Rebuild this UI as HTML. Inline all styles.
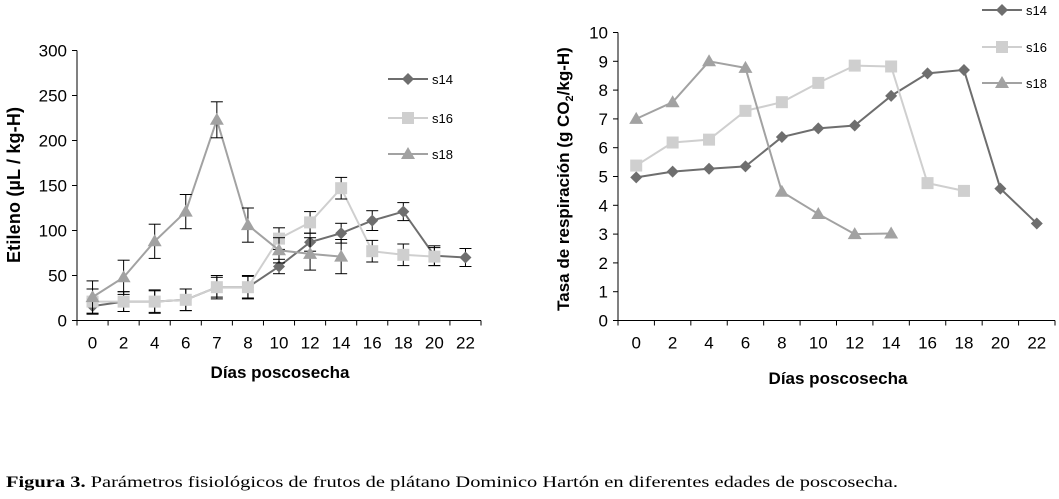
<!DOCTYPE html>
<html><head><meta charset="utf-8"><style>
body{margin:0;background:#fff;width:1059px;height:494px;overflow:hidden}
svg{font-family:"Liberation Sans",sans-serif}
</style></head><body>
<svg id="c" width="1059" height="494"></svg>
<script>
const catsL=["0","2","4","6","7","8","10","12","14","16","18","20","22"];
const s14L=[16,21,21,23,37,37,60,87,97,111,121,72,70];
const s14Lerr=[8,11,12,12,11,12,8,10,11,11,10,11,10];
const s16L=[21,21,21,23,37,37,91,109,147,77,73,71];
const s16Lerr=[14,11,13,12,13,13,12,12,12,12,12,10];
const s18L=[26,48,88,121,223,106,78,74,71];
const s18Lerr=[18,19,19,19,20,19,14,18,19];
const yTicksL=[0,50,100,150,200,250,300];
const catsR=["0","2","4","6","8","10","12","14","16","18","20","22"];
const s14R=[4.97,5.17,5.27,5.35,6.37,6.67,6.77,7.8,8.58,8.7,4.58,3.37];
const s16R=[5.38,6.18,6.28,7.28,7.58,8.25,8.85,8.82,4.77,4.5];
const s18R=[7.0,7.58,9.0,8.77,4.47,3.7,3.0,3.02];
const yTicksR=[0,1,2,3,4,5,6,7,8,9,10];
const names=["s14","s16","s18"];
const cols=["#6e6e6e","#cfcfcf","#a2a2a2"];
const svg=document.getElementById('c');
const NS="http://www.w3.org/2000/svg";
function el(t,a,txt){const e=document.createElementNS(NS,t);for(const k in a)e.setAttribute(k,a[k]);if(txt!==undefined)e.textContent=txt;svg.appendChild(e);return e;}
function marker(kind,x,y,c){
 let e;
 if(kind===0)e=el('polygon',{points:`${x},${y-6} ${x+6},${y} ${x},${y+6} ${x-6},${y}`,fill:c});
 else if(kind===1)e=el('rect',{x:x-6,y:y-6,width:12,height:12,fill:c});
 else e=el('polygon',{points:`${x},${y-7} ${x+7},${y+5} ${x-7},${y+5}`,fill:c});
 return e;
}
function chart(o){
 const n=o.cats.length, step=(o.x1-o.x0)/n;
 const X=i=>o.x0+step*(i+0.5);
 const Y=v=>o.yb-(v-o.ymin)/(o.ymax-o.ymin)*(o.yb-o.yt);
 let e=el('line',{x1:o.x0,y1:o.yt,x2:o.x0,y2:o.yb,stroke:'#000','stroke-width':1});
 
 e=el('line',{x1:o.x0-4,y1:o.yb,x2:o.x1,y2:o.yb,stroke:'#000','stroke-width':1});
 
 o.yt_.forEach(v=>{el('line',{x1:o.x0-5,y1:Y(v),x2:o.x0,y2:Y(v),stroke:'#000'});
  e=el('text',{x:o.x0-10,y:Y(v)+6,'text-anchor':'end','font-size':17},String(v));
  });
 for(let i=0;i<=n;i++)el('line',{x1:o.x0+step*i,y1:o.yb,x2:o.x0+step*i,y2:o.yb+5,stroke:'#000'});
 o.cats.forEach((c,i)=>{e=el('text',{x:X(i),y:o.yb+28,'text-anchor':'middle','font-size':17},c);
  });
 o.series.forEach((s,k)=>{
  const pts=s.map((v,i)=>X(i)+','+Y(v)).join(' ');
  e=el('polyline',{points:pts,fill:'none',stroke:cols[k],'stroke-width':2});
  
  if(o.errs){o.errs[k].forEach((er,i)=>{if(i>=s.length)return;const x=X(i);
   el('line',{x1:x,y1:Y(s[i]+er),x2:x,y2:Y(s[i]-er),stroke:'#000'});
   el('line',{x1:x-6,y1:Y(s[i]+er),x2:x+6,y2:Y(s[i]+er),stroke:'#000'});
   el('line',{x1:x-6,y1:Y(s[i]-er),x2:x+6,y2:Y(s[i]-er),stroke:'#000'});});}
  s.forEach((v,i)=>{e=marker(k,X(i),Y(v),cols[k]);
   });
 });
 o.leg.forEach((ly,k)=>{
  el('line',{x1:o.lx,y1:ly,x2:o.lx+40,y2:ly,stroke:cols[k],'stroke-width':2});
  marker(k,o.lx+20,ly,cols[k]);
  e=el('text',{x:o.lx+44,y:ly+5,'font-size':13},names[k]);
  
 });
}
chart({p:'ethylene',cats:catsL,x0:77,x1:481,yt:50.5,yb:320.5,ymin:0,ymax:300,yt_:yTicksL,
 series:[s14L,s16L,s18L],errs:[s14Lerr,s16Lerr,s18Lerr],lx:388,leg:[79,118,154]});
chart({p:'respiration',cats:catsR,x0:618,x1:1055,yt:32.5,yb:320.5,ymin:0,ymax:10,yt_:yTicksR,
 series:[s14R,s16R,s18R],lx:982,leg:[10,47,83]});
</script>
<svg style="position:absolute;left:0;top:0" width="1059" height="494">
<text transform="translate(20,185) rotate(-90)" text-anchor="middle" font-family="Liberation Sans,sans-serif" font-weight="bold" font-size="18" textLength="156">Etileno (µL / kg-H)</text>
<text x="280" y="378" text-anchor="middle" font-family="Liberation Sans,sans-serif" font-weight="bold" font-size="17">Días poscosecha</text>
<text transform="translate(569,179) rotate(-90)" text-anchor="middle" font-family="Liberation Sans,sans-serif" font-weight="bold" font-size="17">Tasa de respiración (g CO<tspan font-size="11" dy="4">2</tspan><tspan dy="-4">/kg-H)</tspan></text>
<text x="838" y="384" text-anchor="middle" font-family="Liberation Sans,sans-serif" font-weight="bold" font-size="17">Días poscosecha</text>
<text x="6" y="487" font-family="Liberation Serif,serif" font-size="16" textLength="892" lengthAdjust="spacingAndGlyphs"><tspan font-weight="bold">Figura 3.</tspan> Parámetros fisiológicos de frutos de plátano Dominico Hartón en diferentes edades de poscosecha.</text>
</svg>
</body></html>
